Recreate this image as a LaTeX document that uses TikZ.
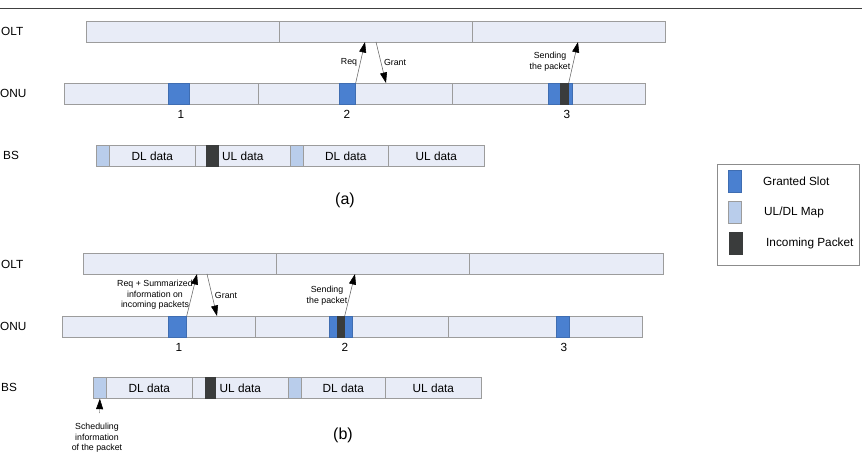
\documentclass[tikz,border=0pt]{standalone}
\usepackage{fontspec}
\setmainfont{Liberation Sans}
\usetikzlibrary{arrows.meta,positioning}
\definecolor{barfill}{HTML}{E8ECF7}
\definecolor{barline}{HTML}{9C9C9C}
\definecolor{slotblue}{HTML}{4A80D0}
\definecolor{mapblue}{HTML}{B9CDEB}
\definecolor{pktdark}{HTML}{3A3C3C}
\tikzset{
  seg/.style={draw=barline,fill=barfill,line width=0.7pt,inner sep=0pt,
    minimum height=21pt,anchor=north west,font=\fontsize{11.8}{13}\selectfont},
  slot/.style={seg,fill=slotblue,draw=slotblue!85!black},
  mapbox/.style={seg,fill=mapblue,draw=barline},
  pkt/.style={seg,fill=pktdark,draw=pktdark},
  lbl/.style={font=\fontsize{11.8}{13}\selectfont,inner sep=0pt},
  note/.style={font=\fontsize{8.8}{10.6}\selectfont,align=center,inner sep=0pt},
  captxt/.style={font=\fontsize{16}{18}\selectfont,inner sep=0pt},
  arr/.style={-{Triangle[length=10.5pt,width=7pt,color=black]},line width=0.55pt,color=black!60},
}

\begin{document}
\begin{tikzpicture}[x=1pt,y=-1pt]
\useasboundingbox (0,0) rectangle (862,462);
\draw[line width=0.8pt,black!75] (0,8) -- (862,8);
% (a)
\node[lbl,anchor=west] (olta) at (1,31) {OLT};
\node[lbl,anchor=west] (onua) at (0,93) {ONU};
\node[lbl,anchor=west] (bsa) at (3,155) {BS};
\node[seg,minimum width=193pt] (olta1) at (86,21) {};
\node[seg,minimum width=193pt] (olta2) at (279,21) {};
\node[seg,minimum width=193pt] (olta3) at (472,21) {};
\node[seg,minimum width=194pt] (onua1) at (64,83) {};
\node[seg,minimum width=194pt] (onua2) at (258,83) {};
\node[seg,minimum width=193pt] (onua3) at (452,83) {};
\node[slot,minimum width=21pt] (sla1) at (168,83) {};
\node[slot,minimum width=16pt] (sla2) at (339,83) {};
\node[slot,minimum width=24pt] (sla3) at (548,83) {};
\node[pkt,minimum width=8pt] (pkta3) at (560,83) {};
\node[lbl] (numa1) at (181,114) {1};
\node[lbl] (numa2) at (347,114) {2};
\node[lbl] (numa3) at (567,114) {3};
\node[mapbox,minimum width=13pt] (mapa1) at (96,145) {};
\node[seg,minimum width=86pt] (dla1) at (109,145) {DL data};
\node[seg,minimum width=95pt] (ula1) at (195,145) {UL data};
\node[pkt,minimum width=12pt] (pkta) at (206,145) {};
\node[mapbox,minimum width=13pt] (mapa2) at (290,145) {};
\node[seg,minimum width=85pt] (dla2) at (303,145) {DL data};
\node[seg,minimum width=96pt] (ula2) at (388,145) {UL data};
\node[captxt] (capa) at (345,200) {(a)};
\coordinate (reqa) at (365,42);
\coordinate (grantsrc) at (376,42);
\coordinate (granta) at (386,83);
\coordinate (senda) at (578,42);
\draw[arr] (sla2.north east) -- (reqa);
\draw[arr] (grantsrc) -- (granta);
\draw[arr] (pkta3.north east) -- (senda);
\node[note] (reqlbla) at (349,62) {Req};
\node[note] (grantlbla) at (395,62) {Grant};
\node[note] (sendlbla) at (550,62) {Sending\\the packet};
% legend
\node[seg,draw=black!45,fill=white,minimum width=142pt,minimum height=101pt] (legend) at (717,164) {};
\node[slot,minimum width=13pt,minimum height=22pt] (lgslot) at (728,170) {};
\node[mapbox,minimum width=13pt,minimum height=22pt] (lgmap) at (728,201) {};
\node[pkt,minimum width=13pt,minimum height=22pt] (lgpkt) at (729,232) {};
\node[lbl,anchor=west] (lgslottxt) at (763,181) {Granted Slot};
\node[lbl,anchor=west] (lgmaptxt) at (764,212) {UL/DL Map};
\node[lbl,anchor=west] (lgpkttxt) at (766,243) {Incoming Packet};
% (b)
\node[lbl,anchor=west] (oltb) at (1,264) {OLT};
\node[lbl,anchor=west] (onub) at (0,326) {ONU};
\node[lbl,anchor=west] (bsb) at (1,387) {BS};
\node[seg,minimum width=193pt] (oltb1) at (83,253) {};
\node[seg,minimum width=193pt] (oltb2) at (276,253) {};
\node[seg,minimum width=194pt] (oltb3) at (469,253) {};
\node[seg,minimum width=193pt] (onub1) at (62,316) {};
\node[seg,minimum width=193pt] (onub2) at (255,316) {};
\node[seg,minimum width=194pt] (onub3) at (448,316) {};
\node[slot,minimum width=18pt] (slb1) at (168,316) {};
\node[slot,minimum width=23pt] (slb2) at (329,316) {};
\node[pkt,minimum width=7pt] (pktb2) at (337,316) {};
\node[slot,minimum width=13pt] (slb3) at (556,316) {};
\node[lbl] (numb1) at (179,347) {1};
\node[lbl] (numb2) at (345,347) {2};
\node[lbl] (numb3) at (564,347) {3};
\node[mapbox,minimum width=13pt] (mapb1) at (93,377) {};
\node[seg,minimum width=86pt] (dlb1) at (106,377) {DL data};
\node[seg,minimum width=96pt] (ulb1) at (192,377) {UL data};
\node[pkt,minimum width=10pt] (pktb) at (205,377) {};
\node[mapbox,minimum width=13pt] (mapb2) at (288,377) {};
\node[seg,minimum width=84pt] (dlb2) at (301,377) {DL data};
\node[seg,minimum width=96pt] (ulb2) at (385,377) {UL data};
\node[captxt] (capb) at (343,435) {(b)};
\coordinate (reqb) at (197,274);
\coordinate (grantsrcb) at (207,274);
\coordinate (grantb) at (217,316);
\coordinate (sendb) at (355,274);
\coordinate (schedsrc) at (99.5,413);
\draw[arr] (slb1.north east) -- (reqb);
\draw[arr] (grantsrcb) -- (grantb);
\draw[arr] (pktb2.north east) -- (sendb);
\draw[arr,color=black!40] (schedsrc) -- (mapb1.south);
\node[note] (reqlblb) at (155,295) {Req + Summarized\\information on\\incoming packets};
\node[note] (grantlblb) at (226,295) {Grant};
\node[note] (sendlblb) at (327,295.5) {Sending\\the packet};
\node[note] (schedlbl) at (97,438) {Scheduling\\information\\of the packet};
\end{tikzpicture}
\end{document}
